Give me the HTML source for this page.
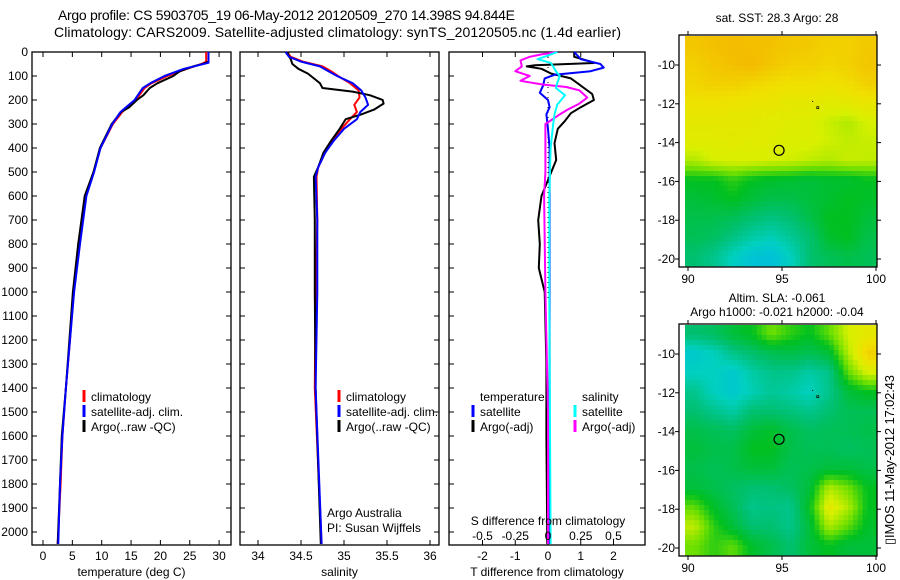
<!DOCTYPE html>
<html><head><meta charset="utf-8">
<style>
html,body{margin:0;padding:0;background:#fff;}
svg{display:block;font-family:"Liberation Sans",sans-serif;}
text{font-size:12px;fill:#000;}
</style></head>
<body>
<svg id="fig" width="900" height="580" viewBox="0 0 900 580" xmlns="http://www.w3.org/2000/svg">
<text x="58" y="20" style="font-size:14px" textLength="457">Argo profile: CS 5903705_19 06-May-2012 20120509_270 14.398S 94.844E</text>
<text x="54" y="37" style="font-size:14px" textLength="567">Climatology: CARS2009. Satellite-adjusted climatology: synTS_20120505.nc (1.4d earlier)</text>
<g id="g1"></g>
<g id="g2"></g>
<g id="g3"></g>
<g id="m1"></g>
<g id="m2"></g>
<text transform="translate(894,545) rotate(-90)" style="font-size:13px" textLength="170">▯IMOS 11-May-2012 17:02:43</text>
</svg>
<script>
// ---- data ----
const depthTicks=[0,100,200,300,400,500,600,700,800,900,1000,1100,1200,1300,1400,1500,1600,1700,1800,1900,2000];
const tTicks=[0,5,10,15,20,25,30];
const sTicks=[34,34.5,35,35.5,36];
const dTTicks=[-2,-1,0,1,2];
const dSTicks=[-0.5,-0.25,0,0.25,0.5];
const latTicks=[-10,-12,-14,-16,-18,-20];
const lonTicks=[90,95,100];

const tClimD=[0,40,50,70,100,130,150,200,250,300,400,500,600,800,1000,1200,1400,1600,1800,2050];
const tClim=[27.8,27.8,27.0,24.5,21.2,18.5,17.3,15.8,13.5,11.9,9.8,8.6,7.3,6.2,5.2,4.6,3.9,3.3,3.0,2.5];
const tSatD=[0,45,55,70,100,130,150,200,250,300,400,500,600,800,1000,1200,1400,1600,1800,2050];
const tSat=[28.2,28.2,26.5,24.0,20.7,18.3,17.0,15.6,13.2,11.8,9.8,8.7,7.4,6.3,5.3,4.6,3.9,3.3,2.9,2.6];
const tArgD=[0,40,50,60,80,100,130,150,180,200,230,250,300,400,500,600,800,1000,1200,1400,1600,1800,2050];
const tArg=[28.2,28.2,27.2,25.6,23.3,22.2,19.5,18.2,17.1,16.0,14.7,13.3,11.7,9.7,8.6,7.1,6.0,5.1,4.5,3.9,3.2,2.9,2.5];

const sClimD=[0,20,40,60,80,100,130,160,190,220,250,280,320,370,420,480,520,700,1000,1400,2050];
const sClim=[34.34,34.38,34.52,34.75,34.85,34.93,35.07,35.17,35.18,35.12,35.15,35.07,34.97,34.87,34.78,34.7,34.68,34.69,34.67,34.66,34.74];
const sSatD=[0,20,40,60,80,100,130,160,190,220,250,280,320,370,420,480,520,700,1000,1400,2050];
const sSat=[34.32,34.36,34.5,34.72,34.82,34.92,35.1,35.2,35.25,35.28,35.19,35.15,35.0,34.88,34.78,34.7,34.67,34.69,34.69,34.67,34.74];
const sArgD=[0,10,30,50,70,90,110,130,150,165,180,200,215,240,260,280,320,370,420,480,520,700,1000,1400,2050];
const sArg=[34.35,34.35,34.38,34.4,34.47,34.58,34.65,34.72,34.75,35.1,35.3,35.45,35.46,35.35,35.2,35.02,34.95,34.85,34.76,34.7,34.65,34.66,34.66,34.67,34.73];

const dTSatD=[0,30,50,65,80,95,110,140,170,200,230,260,320,400,600,1000,1500,2050];
const dTSat=[0.8,1.0,1.6,1.7,1.3,0.2,-0.1,-0.15,-0.25,0,0.05,-0.05,0,0.05,0.05,0.05,0.05,0.05];
const dTArgD=[0,20,40,46,55,60,70,90,110,130,150,175,200,230,255,290,320,380,450,500,600,700,800,900,1000,1300,1600,2050];
const dTArg=[0.8,0.8,1.3,1.4,-0.4,-0.65,-0.2,0.1,0.7,0.9,1.1,1.35,1.4,1.0,0.7,0.5,0.3,0.2,0.25,0.1,-0.2,-0.3,-0.25,-0.28,-0.1,-0.05,-0.05,-0.02];
const dSSatD=[0,15,30,45,60,80,100,130,150,180,220,260,300,400,600,1000,2050];
const dSSat=[0.07,0.0,-0.08,0.02,0.04,0.06,0.09,0.07,0.06,0.13,0.07,0.05,0.04,0.02,0.01,0.01,0.02];
const dSArgD=[0,10,20,35,60,80,100,120,135,146,160,190,215,240,260,300,400,500,600,1000,1500,2050];
const dSArg=[0.07,-0.05,-0.14,-0.21,-0.2,-0.25,-0.14,-0.21,-0.05,0.14,0.24,0.3,0.24,0.15,0.09,-0.02,-0.02,-0.02,-0.03,-0.02,0,0];

const sstGrid=[
[0.93,0.95,0.96,0.95,0.95,0.93,0.92,0.9,0.9,0.92],
[0.9,0.93,0.95,0.97,0.93,0.9,0.9,0.88,0.9,0.93],
[0.88,0.9,0.9,0.88,0.86,0.85,0.85,0.84,0.86,0.9],
[0.84,0.84,0.83,0.82,0.82,0.8,0.8,0.78,0.8,0.82],
[0.8,0.8,0.8,0.8,0.78,0.78,0.77,0.73,0.7,0.75],
[0.78,0.78,0.79,0.78,0.78,0.76,0.76,0.74,0.72,0.73],
[0.7,0.75,0.76,0.76,0.75,0.74,0.72,0.7,0.73,0.72],
[0.5,0.5,0.55,0.5,0.48,0.47,0.45,0.47,0.47,0.5],
[0.45,0.47,0.5,0.45,0.42,0.42,0.45,0.47,0.5,0.48],
[0.42,0.42,0.4,0.35,0.32,0.35,0.42,0.5,0.5,0.45],
[0.4,0.38,0.32,0.25,0.22,0.28,0.35,0.48,0.5,0.42],
[0.35,0.3,0.2,0.12,0.1,0.2,0.35,0.4,0.42,0.4]];
const slaGrid=[
[0.35,0.38,0.45,0.5,0.62,0.55,0.5,0.6,0.75,0.8],
[0.15,0.2,0.3,0.35,0.4,0.42,0.4,0.45,0.7,0.9],
[0.2,0.2,0.15,0.25,0.3,0.3,0.25,0.3,0.6,0.75],
[0.3,0.2,0.15,0.22,0.28,0.25,0.2,0.3,0.45,0.5],
[0.35,0.3,0.25,0.35,0.35,0.33,0.3,0.35,0.4,0.4],
[0.42,0.4,0.38,0.45,0.48,0.42,0.38,0.4,0.4,0.42],
[0.45,0.42,0.42,0.5,0.5,0.42,0.4,0.4,0.38,0.4],
[0.42,0.4,0.42,0.45,0.45,0.4,0.42,0.45,0.45,0.42],
[0.45,0.42,0.38,0.35,0.35,0.38,0.45,0.7,0.62,0.5],
[0.6,0.48,0.4,0.3,0.32,0.3,0.5,0.8,0.7,0.5],
[0.72,0.55,0.45,0.35,0.35,0.3,0.45,0.7,0.6,0.48],
[0.62,0.55,0.6,0.48,0.42,0.35,0.45,0.5,0.45,0.45]];
const argoLon=[94.844];
const argoLat=[-14.398];

// ---- helpers ----
const NS='http://www.w3.org/2000/svg';
function mk(tag,attrs,parent,txt){const e=document.createElementNS(NS,tag);for(const k in attrs)e.setAttribute(k,attrs[k]);if(txt!==undefined)e.textContent=txt;parent.appendChild(e);return e;}
const yD=d=>52+0.24*d;
const PT=52, PB=545;

function panel(g,x0,x1,xs,ticks,tickLbl,title,name){
  const b=mk('rect',{x:x0,y:PT,width:x1-x0,height:PB-PT,fill:'none',stroke:'#000','stroke-width':1.3},g);
  
  
  ticks.forEach((t,i)=>{const x=xs(t);
    mk('line',{x1:x,x2:x,y1:PT,y2:PT+5,stroke:'#000'},g);
    mk('line',{x1:x,x2:x,y1:PB,y2:PB-5,stroke:'#000'},g);
    if(tickLbl){const l=mk('text',{x:x,y:560,'text-anchor':'middle'},g,tickLbl[i]);
      
      }
  });
  depthTicks.forEach(d=>{const y=yD(d);
    mk('line',{x1:x0,x2:x0+5,y1:y,y2:y,stroke:'#000'},g);
    mk('line',{x1:x1,x2:x1-5,y1:y,y2:y,stroke:'#000'},g);});
  const tt=mk('text',{x:(x0+x1)/2,y:576,'text-anchor':'middle'},g,title);
  
  
}
function series(g,ds,vs,xs,col,name){
  const pts=ds.map((d,i)=>xs(vs[i]).toFixed(1)+','+yD(d).toFixed(1)).join(' ');
  const p=mk('polyline',{points:pts,fill:'none',stroke:col,'stroke-width':2,'stroke-linejoin':'round'},g);
  
  
}
function legend(g,x,y,col,label,name){
  mk('line',{x1:x,x2:x,y1:y-11,y2:y+1,stroke:col,'stroke-width':3},g);
  const t=mk('text',{x:x+7,y:y},g,label);
  
  
}

// Panel 1
const g1=document.getElementById('g1');
const xT=v=>43+v*5.87;
panel(g1,32,231,xT,tTicks,tTicks.map(String),'temperature (deg C)','temperature');
depthTicks.forEach(d=>{const l=mk('text',{x:28,y:yD(d)+4,'text-anchor':'end'},g1,String(d));
  
  });
series(g1,tClimD,tClim,xT,'#f00','temp-climatology-line');
series(g1,tArgD,tArg,xT,'#000','temp-argo-line');
series(g1,tSatD,tSat,xT,'#00f','temp-satellite-line');
legend(g1,84,401,'#f00','climatology','legend-climatology');
legend(g1,84,416,'#00f','satellite-adj. clim.','legend-satellite');
legend(g1,84,431,'#000','Argo(..raw -QC)','legend-argo');

// Panel 2
const g2=document.getElementById('g2');
const xS=v=>258+(v-34)*86;
panel(g2,240,439,xS,sTicks,['34','34.5','35','35.5','36'],'salinity','salinity');
series(g2,sClimD,sClim,xS,'#f00','sal-climatology-line');
series(g2,sArgD,sArg,xS,'#000','sal-argo-line');
series(g2,sSatD,sSat,xS,'#00f','sal-satellite-line');
legend(g2,339,401,'#f00','climatology','legend-climatology');
legend(g2,339,416,'#00f','satellite-adj. clim.','legend-satellite');
legend(g2,339,431,'#000','Argo(..raw -QC)','legend-argo');
[['Argo Australia',517],['PI: Susan Wijffels',532]].forEach(a=>{const t=mk('text',{x:327,y:a[1]},g2,a[0]);
  
  });

// Panel 3
const g3=document.getElementById('g3');
const xDT=v=>548+v*32.75;
const xDS=v=>548+v*131;
panel(g3,449,645,xDT,dTTicks,dTTicks.map(String),'T difference from climatology','t-difference');
mk('line',{x1:548,x2:548,y1:PT,y2:300,stroke:'#000','stroke-dasharray':'1,4'},g3);
series(g3,dTArgD,dTArg,xDT,'#000','dt-argo-line');
series(g3,dTSatD,dTSat,xDT,'#00f','dt-satellite-line');
series(g3,dSArgD,dSArg,xDS,'#f0f','ds-argo-line');
series(g3,dSSatD,dSSat,xDS,'#0ff','ds-satellite-line');
[['temperature',480,401],['salinity',582,401]].forEach(a=>{const t=mk('text',{x:a[1],y:a[2]},g3,a[0]);
  
  });
legend(g3,473,416,'#00f','satellite','legend-t-satellite');
legend(g3,473,431,'#000','Argo(-adj)','legend-t-argo');
legend(g3,575,416,'#0ff','satellite','legend-s-satellite');
legend(g3,575,431,'#f0f','Argo(-adj)','legend-s-argo');
const st=mk('text',{x:548,y:525,'text-anchor':'middle'},g3,'S difference from climatology');


dSTicks.forEach(v=>{const t=mk('text',{x:xDS(v),y:540,'text-anchor':'middle'},g3,String(v));
  
  });

// Maps
const stops=[[0,[0,176,240]],[0.2,[0,208,192]],[0.35,[0,192,112]],[0.5,[0,192,32]],[0.62,[112,224,0]],[0.75,[216,240,0]],[0.85,[240,224,0]],[1,[245,176,0]]];
function cmap(v){for(let i=1;i<stops.length;i++){if(v<=stops[i][0]){const a=stops[i-1],b=stops[i];const f=(v-a[0])/(b[0]-a[0]);
  return 'rgb('+a[1].map((c,k)=>Math.round(c+(b[1][k]-c)*f)).join(',')+')';}}return 'rgb(245,176,0)';}
function sample(grid,u,v){ // bilinear display smoothing, u,v in grid coords
  const R=grid.length,C=grid[0].length;
  u=Math.max(0,Math.min(C-1,u));v=Math.max(0,Math.min(R-1,v));
  const c0=Math.floor(u),r0=Math.floor(v),c1=Math.min(C-1,c0+1),r1=Math.min(R-1,r0+1);
  const fu=u-c0,fv=v-r0;
  return (grid[r0][c0]*(1-fu)+grid[r0][c1]*fu)*(1-fv)+(grid[r1][c0]*(1-fu)+grid[r1][c1]*fu)*fv;
}
function map(g,top,grid,titles,name){
  const x0=679,x1=877,bot=top+232;
  const dx0=685,dy0=top+1,dy1=bot-1;
  const lonX=v=>688+(v-90)*18.8;
  const latY=v=>top+30+(-10-v)*19.4;
  const rows=grid.length,cols=grid[0].length;
  const NX=40,NY=46;
  const cw=(x1-dx0)/NX,ch=(dy1-dy0)/NY;
  for(let j=0;j<NY;j++)for(let i=0;i<NX;i++){
    const val=sample(grid,(i+0.5)/NX*cols-0.5,(j+0.5)/NY*rows-0.5);
    const cell=mk('rect',{x:(dx0+i*cw).toFixed(2),y:(dy0+j*ch).toFixed(2),width:(cw+0.4).toFixed(2),height:(ch+0.4).toFixed(2),fill:cmap(val)},g);
    
    
  }
  mk('rect',{x:x0,y:top,width:x1-x0,height:bot-top,fill:'none',stroke:'#000','stroke-width':1.3},g);
  latTicks.forEach(v=>{const y=latY(v);
    mk('line',{x1:x0-4,x2:x0,y1:y,y2:y,stroke:'#000'},g);
    mk('line',{x1:x1,x2:x1+4,y1:y,y2:y,stroke:'#000'},g);
    const t=mk('text',{x:675,y:y+4,'text-anchor':'end'},g,String(v));
    
    });
  lonTicks.forEach(v=>{const x=lonX(v);
    mk('line',{x1:x,x2:x,y1:top-4,y2:top,stroke:'#000'},g);
    mk('line',{x1:x,x2:x,y1:bot,y2:bot+4,stroke:'#000'},g);
    const t=mk('text',{x:x,y:bot+16,'text-anchor':'middle'},g,String(v));
    
    });
  titles.forEach((s,i)=>{const t=mk('text',{x:777,y:titles.length==1?top-13:top-22+i*14,'text-anchor':'middle'},g,s);
    
    });
  const c=mk('circle',{cx:lonX(argoLon[0]),cy:latY(argoLat[0]),r:5,fill:'none',stroke:'#000','stroke-width':1.2},g);
  
  
  mk('rect',{x:lonX(96.6),y:latY(-11.85),width:1,height:1,fill:'#000'},g);
  mk('rect',{x:lonX(96.85),y:latY(-12.15),width:2,height:2,fill:'none',stroke:'#000','stroke-width':0.7},g);
}
map(document.getElementById('m1'),35,sstGrid,['sat. SST: 28.3 Argo: 28'],'sst-map');
map(document.getElementById('m2'),324,slaGrid,['Altim. SLA: -0.061','Argo h1000: -0.021 h2000: -0.04'],'sla-map');
</script>
</body></html>
